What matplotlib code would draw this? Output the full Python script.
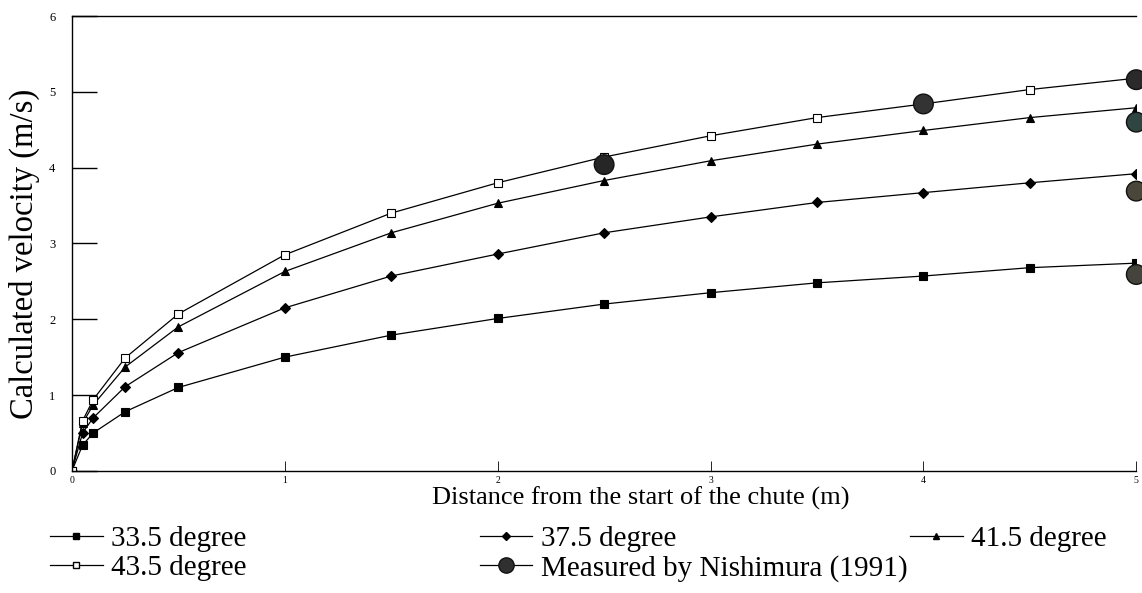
import matplotlib.pyplot as plt
from matplotlib.lines import Line2D

plt.rcParams['font.family'] = ['Liberation Serif', 'DejaVu Serif']

distancia = [0, 0.05, 0.1, 0.25, 0.5, 1, 1.5, 2, 2.5, 3, 3.5, 4, 4.5, 5]
v_335 = [0, 0.34, 0.50, 0.78, 1.10, 1.50, 1.79, 2.01, 2.20, 2.35, 2.48, 2.57, 2.68, 2.74]
v_375 = [0, 0.50, 0.70, 1.11, 1.56, 2.15, 2.57, 2.86, 3.14, 3.35, 3.54, 3.67, 3.80, 3.92]
v_415 = [0, 0.63, 0.87, 1.37, 1.90, 2.63, 3.14, 3.53, 3.83, 4.09, 4.31, 4.49, 4.66, 4.79]
v_435 = [0, 0.66, 0.94, 1.49, 2.07, 2.85, 3.40, 3.80, 4.14, 4.42, 4.66, 4.84, 5.03, 5.18]

medido_x = [2.5, 4, 5, 5, 5, 5]
medido_v = [4.04, 4.84, 5.16, 4.60, 3.69, 2.59]
colores_medido = ['#262626', '#333333', '#2a2a2a', '#2f4541', '#4a463a', '#45443c']

etiquetas = ["33.5 degree", "37.5 degree", "41.5 degree", "43.5 degree",
             "Measured by Nishimura (1991)"]

fig = plt.figure(figsize=(11.42, 5.93), dpi=100)
ax = fig.add_axes([0.063, 0.206, 0.932, 0.767])

estilos = [(v_335, 's', 'black'), (v_375, 'D', 'black'),
           (v_415, '^', 'black'), (v_435, 's', 'white')]
for v, m, c in estilos:
    ax.plot(distancia, v, color='black', lw=0.9, marker=m, ms=6 if m != 'D' else 5.5,
            mfc=c, mec='black', mew=0.8)

ax.scatter(medido_x, medido_v, s=200, c=colores_medido, edgecolors='#111111',
           linewidths=1, clip_on=False, zorder=5)

ax.set_xlim(0, 5)
ax.set_ylim(0, 6)
ax.set_xticks([0, 1, 2, 3, 4, 5])
ax.set_yticks([0, 1, 2, 3, 4, 5, 6])
ax.tick_params(axis='y', direction='in', length=18, width=1, labelsize=9, pad=12)
ax.tick_params(axis='x', direction='in', length=7, width=0.6, labelsize=7, pad=4)
ax.spines['right'].set_visible(False)
for s in ['left', 'bottom', 'top']:
    ax.spines[s].set_linewidth(1)

fig.text(0.021, 0.572, "Calculated velocity (m/s)", rotation=90, ha='center', va='center',
         fontsize=23.5)
ax.text(0.534, -0.074, "Distance from the start of the chute (m)", transform=ax.transAxes,
        ha='center', va='baseline', fontsize=19)

# leyenda en tres bloques separados
h = [Line2D([], [], color='black', lw=0.9, marker='s', ms=5, mfc='black', mec='black'),
     Line2D([], [], color='black', lw=0.9, marker='D', ms=4.5, mfc='black', mec='black'),
     Line2D([], [], color='black', lw=0.9, marker='^', ms=5, mfc='black', mec='black'),
     Line2D([], [], color='black', lw=0.9, marker='s', ms=5, mfc='white', mec='black'),
     Line2D([], [], color='black', lw=0.9, marker='o', ms=11, mfc='#303030', mec='#111111')]

posiciones = [(0.0438, [0, 3]), (0.420, [1, 4]), (0.797, [2])]
for x0, idx in posiciones:
    fig.legend([h[i] for i in idx], [etiquetas[i] for i in idx],
               loc='upper left', bbox_to_anchor=(x0, 0.113), frameon=False,
               fontsize=21, handlelength=1.8, handletextpad=0.3, labelspacing=0.08,
               borderpad=0, borderaxespad=0)

plt.savefig("out.png", dpi=100)
plt.close()
